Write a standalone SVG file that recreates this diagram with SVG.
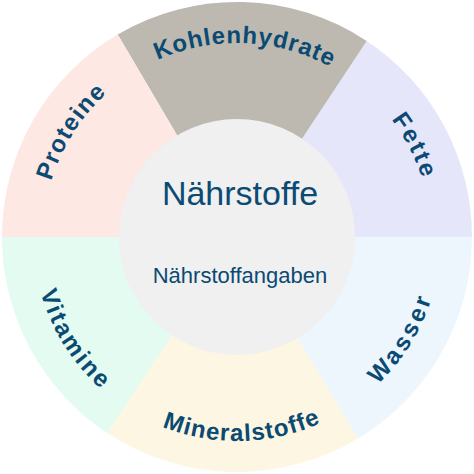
<svg xmlns="http://www.w3.org/2000/svg" xmlns:xlink="http://www.w3.org/1999/xlink" width="474" height="474" viewBox="0 0 474 474">
  <style>
    .lbl { font-family: "Liberation Sans", Arial, sans-serif; font-weight: bold; font-size: 24px; fill: #0b4a72; }
    .ctr { font-family: "Liberation Sans", Arial, sans-serif; fill: #0b4a72; text-anchor: middle; }
  </style>
  <defs>
    <path id="arcTop" d="M112.3,88.4 A194,194 0 0,1 361.7,88.4"/>
    <path id="arcBot" d="M105.9,393.3 A204,204 0 0,0 368.1,393.3"/>
  </defs>
  <rect width="474" height="474" fill="#ffffff"/>

  <g id="fette">
    <path d="M237,237 L366.7,41 A235,235 0 0,1 472,237 Z" fill="#e6e6fb"/>
    <text class="lbl" letter-spacing="2.2" transform="rotate(62.8 237 237)"><textPath href="#arcTop" xlink:href="#arcTop" startOffset="50%" text-anchor="middle">Fette</textPath></text>
  </g>
  <g id="kohlenhydrate">
    <path d="M237,237 L117.7,34.5 A235,235 0 0,1 366.7,41 Z" fill="#bdb9b0"/>
    <text class="lbl" letter-spacing="0.9" transform="rotate(2.4 237 237)"><textPath href="#arcTop" xlink:href="#arcTop" startOffset="50%" text-anchor="middle">Kohlenhydrate</textPath></text>
  </g>
  <g id="proteine">
    <path d="M237,237 L2,237 A235,235 0 0,1 117.7,34.5 Z" fill="#fde8e3"/>
    <text class="lbl" letter-spacing="1.2" transform="rotate(-57.6 237 237)"><textPath href="#arcTop" xlink:href="#arcTop" startOffset="50%" text-anchor="middle">Proteine</textPath></text>
  </g>
  <g id="vitamine">
    <path d="M237,237 L107.3,433 A235,235 0 0,1 2,237 Z" fill="#e3fbf1"/>
    <text class="lbl" letter-spacing="2.3" transform="rotate(57.8 237 237)"><textPath href="#arcBot" xlink:href="#arcBot" startOffset="50%" text-anchor="middle">Vitamine</textPath></text>
  </g>
  <g id="mineralstoffe">
    <path d="M237,237 L358,438.4 A235,235 0 0,1 107.3,433 Z" fill="#fdf6e3"/>
    <text class="lbl" letter-spacing="1.1" transform="rotate(-1.5 237 237)"><textPath href="#arcBot" xlink:href="#arcBot" startOffset="50%" text-anchor="middle">Mineralstoffe</textPath></text>
  </g>
  <g id="wasser">
    <path d="M237,237 L472,237 A235,235 0 0,1 358,438.4 Z" fill="#eef6fd"/>
    <text class="lbl" letter-spacing="3.4" transform="rotate(-58.4 237 237)"><textPath href="#arcBot" xlink:href="#arcBot" startOffset="50%" text-anchor="middle">Wasser</textPath></text>
  </g>

  <g id="naehrstoffe">
    <circle cx="237" cy="237" r="118" fill="#f0f0f1"/>
    <text class="ctr" x="240" y="205" font-size="34">Nährstoffe</text>
    <text class="ctr" x="240" y="283" font-size="22">Nährstoffangaben</text>
  </g>

  <g id="connectors"/>
</svg>
